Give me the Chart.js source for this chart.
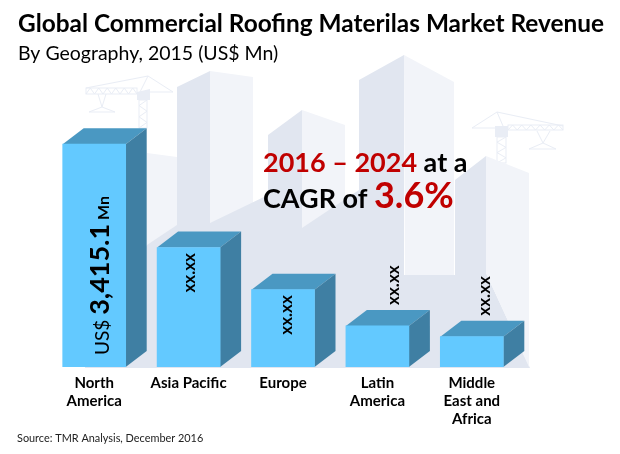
<!DOCTYPE html>
<html>
<head>
<meta charset="utf-8">
<style>
    body { margin: 0; background: #fff; }
    canvas { display: block; }
</style>
</head>
<body>
<canvas id="graph" width="620" height="454"></canvas>
<script src="https://cdn.jsdelivr.net/npm/chart.js@4/dist/chart.umd.min.js"></script>
<script>
const categories = [['North', 'America'], ['Asia Pacific'], ['Europe'], ['Latin', 'America'], ['Middle', 'East and', 'Africa']];
const revenue = [3415.1, 1830, 1185, 630, 465];
const hiddenValues = ['', 'xx.xx', 'xx.xx', 'xx.xx', 'xx.xx'];
const titleText = 'Global Commercial Roofing Materilas Market Revenue';
const subtitleText = 'By Geography, 2015 (US$ Mn)';
const sourceText = 'Source: TMR Analysis, December 2016';

const FONT = 'Lato, "Open Sans", sans-serif';
const DARK = '#e1e6f0';
const LIGHT = '#f2f4f9';
const CRANE = '#e9edf5';

function poly(ctx, pts, color) {
    ctx.fillStyle = color;
    ctx.beginPath();
    pts.forEach((p, i) => i ? ctx.lineTo(p[0], p[1]) : ctx.moveTo(p[0], p[1]));
    ctx.closePath();
    ctx.fill();
}

function line(ctx, x1, y1, x2, y2) {
    ctx.beginPath();
    ctx.moveTo(x1, y1);
    ctx.lineTo(x2, y2);
    ctx.stroke();
}

function lattice(ctx, x1, y1, x2, y2, steps, horizontal) {
    ctx.strokeRect(x1, y1, x2 - x1, y2 - y1);
    for (let i = 0; i < steps; i++) {
        if (horizontal) {
            const a = x1 + (x2 - x1) * i / steps, b = x1 + (x2 - x1) * (i + 1) / steps;
            line(ctx, a, i % 2 ? y1 : y2, b, i % 2 ? y2 : y1);
        } else {
            const a = y1 + (y2 - y1) * i / steps, b = y1 + (y2 - y1) * (i + 1) / steps;
            line(ctx, i % 2 ? x1 : x2, a, i % 2 ? x2 : x1, b);
        }
    }
}

function drawCranes(ctx) {
    ctx.strokeStyle = CRANE;
    ctx.lineWidth = 1;
    // left crane
    lattice(ctx, 139, 100, 147, 128, 5, false);
    lattice(ctx, 86, 88, 137, 94, 12, true);
    line(ctx, 148, 76, 86, 88);
    line(ctx, 148, 76, 173, 92);
    line(ctx, 148, 76, 140, 92);
    line(ctx, 150, 92, 173, 92);
    line(ctx, 98, 94, 102, 107);
    line(ctx, 106, 94, 102, 107);
    line(ctx, 102, 107, 89, 112);
    line(ctx, 102, 107, 115, 112);
    line(ctx, 89, 112, 115, 112);
    poly(ctx, [[137, 92], [150, 89], [150, 100], [137, 100]], CRANE);
    // right crane
    lattice(ctx, 497, 137, 506, 163, 5, false);
    lattice(ctx, 508, 125, 563, 130, 12, true);
    line(ctx, 497, 112, 563, 126);
    line(ctx, 497, 112, 472, 128);
    line(ctx, 497, 112, 503, 126);
    line(ctx, 472, 128, 495, 128);
    line(ctx, 537, 131, 543, 143);
    line(ctx, 550, 131, 543, 143);
    line(ctx, 543, 143, 529, 149);
    line(ctx, 543, 143, 556, 149);
    line(ctx, 529, 149, 556, 149);
    poly(ctx, [[495, 126], [508, 126], [508, 137], [495, 137]], CRANE);
}

const backdrop = {
    id: 'backdrop',
    beforeDraw(chart) {
        const ctx = chart.ctx;
        ctx.save();
        ctx.fillStyle = '#fff';
        ctx.fillRect(0, 0, chart.width, chart.height);
        drawCranes(ctx);
        // light faces
        poly(ctx, [[147, 153], [177, 157], [177, 240], [147, 250]], LIGHT);
        poly(ctx, [[210, 71], [253, 77], [253, 210], [210, 230]], LIGHT);
        poly(ctx, [[302, 110], [345, 125], [345, 210], [302, 235]], LIGHT);
        // dark faces
        poly(ctx, [[177, 87], [210, 71], [210, 223], [268, 195], [268, 135], [302, 110], [302, 228], [359, 190], [359, 80], [404, 55], [404, 275], [455, 275], [455, 180], [486, 156], [486, 273], [530, 368], [85, 368], [85, 366], [147, 245], [177, 225]], DARK);
        // tall light faces on the right, over the dark block
        poly(ctx, [[404, 55], [454, 82], [454, 275], [405, 275]], LIGHT);
        poly(ctx, [[486, 156], [529, 173], [529, 367], [486, 273]], LIGHT);
        ctx.restore();
    }
};

const bars3d = {
    id: 'bars3d',
    beforeDatasetsDraw(chart) {
        const ctx = chart.ctx;
        const dx = 21, dy = 16;
        chart.getDatasetMeta(0).data.forEach(bar => {
            const x0 = bar.x - bar.width / 2, x1 = bar.x + bar.width / 2;
            poly(ctx, [[x0, bar.y], [x0 + dx, bar.y - dy], [x1 + dx, bar.y - dy], [x1, bar.y]], '#4a98c2');
            poly(ctx, [[x1, bar.y], [x1 + dx, bar.y - dy], [x1 + dx, bar.base - dy], [x1, bar.base]], '#3f7fa3');
        });
    }
};

function rotatedRuns(ctx, x, y, runs) {
    ctx.save();
    ctx.translate(x, y);
    ctx.rotate(-Math.PI / 2);
    ctx.textAlign = 'left';
    ctx.textBaseline = 'alphabetic';
    ctx.fillStyle = '#000';
    let at = 0;
    runs.forEach(run => {
        ctx.font = run[1];
        ctx.fillText(run[0], at, 0);
        at += ctx.measureText(run[0]).width;
    });
    ctx.restore();
}

function textRuns(ctx, x, y, runs) {
    let at = x;
    ctx.textAlign = 'left';
    ctx.textBaseline = 'alphabetic';
    runs.forEach(run => {
        ctx.font = run[1];
        ctx.fillStyle = run[2];
        ctx.fillText(run[0], at, y);
        at += ctx.measureText(run[0]).width;
    });
}

const annotations = {
    id: 'annotations',
    afterDraw(chart) {
        const ctx = chart.ctx;
        const bars = chart.getDatasetMeta(0).data;
        ctx.save();
        textRuns(ctx, 18, 32, [[titleText, `bold 24.4px ${FONT}`, '#000']]);
        textRuns(ctx, 18, 60, [[subtitleText, `19.5px ${FONT}`, '#000']]);
        textRuns(ctx, 263, 172, [['2016 – 2024 ', `bold 27px ${FONT}`, '#c00000'], ['at a', `bold 27px ${FONT}`, '#000']]);
        textRuns(ctx, 263, 208, [['CAGR of ', `bold 27px ${FONT}`, '#000'], ['3.6%', `bold 36px ${FONT}`, '#c00000']]);
        textRuns(ctx, 17, 442, [[sourceText, `10.9px ${FONT}`, '#222']]);

        // value labels, turned on their side
        rotatedRuns(ctx, bars[0].x + 15, 355, [['US$ ', `19px ${FONT}`], ['3,415.1', `bold 27px ${FONT}`], [' Mn', `bold 16px ${FONT}`]]);
        const inside = [0, 1, 1, 0, 0];
        const shift = [0, 6, 9, 22, 18];
        hiddenValues.forEach((label, i) => {
            if (!label) return;
            const y = inside[i] ? bars[i].y + 45 : bars[i].y - 21;
            rotatedRuns(ctx, bars[i].x + shift[i], y, [[label, `bold 17px ${FONT}`]]);
        });
        ctx.restore();
    }
};

new Chart(document.getElementById('graph').getContext('2d'), {
    type: 'bar',
    data: {
        labels: categories,
        datasets: [{
            label: 'Revenue',
            data: revenue,
            backgroundColor: '#63c9ff',
            barThickness: 63
        }]
    },
    plugins: [backdrop, bars3d, annotations],
    options: {
        responsive: false,
        animation: false,
        layout: { padding: { left: 47, right: 101, top: 106, bottom: 0 } },
        plugins: {
            legend: { display: false },
            tooltip: { enabled: false }
        },
        scales: {
            x: {
                grid: { display: false },
                border: { display: false },
                afterFit: scale => { scale.height = 87; },
                ticks: {
                    color: '#000',
                    padding: -1,
                    maxRotation: 0,
                    autoSkip: false,
                    font: { family: 'Lato, "Open Sans", sans-serif', size: 15, weight: 'bold', lineHeight: 1.2 }
                }
            },
            y: {
                display: false,
                min: 0,
                max: 4000
            }
        }
    }
});
</script>
</body>
</html>
